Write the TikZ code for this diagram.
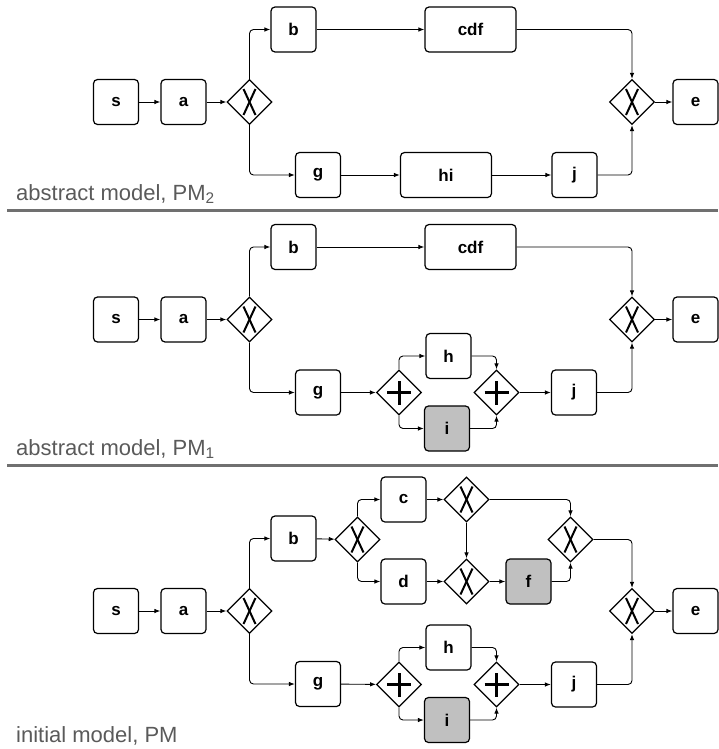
\documentclass[tikz,border=0pt]{standalone}
\usepackage{fontspec}
\setmainfont{Liberation Sans}
\usetikzlibrary{shapes.geometric,arrows.meta}
\definecolor{LabelGray}{RGB}{90,90,90}
\definecolor{RuleGray}{RGB}{112,112,112}
\definecolor{TaskGray}{RGB}{192,192,192}

\begin{document}
\begin{tikzpicture}[x=1pt, y=-1pt,
  task/.style={draw, line width=1.2pt, rounded corners=4pt, minimum width=45pt, minimum height=45pt,
    inner sep=0pt, font=\fontsize{17}{19}\selectfont\bfseries},
  widetask/.style={task, minimum width=91pt},
  greytask/.style={task, fill=TaskGray},
  gw/.style={draw, diamond, aspect=1, line width=1.2pt, minimum width=45pt, minimum height=45pt, inner sep=0pt},
  xorgw/.style={gw, path picture={
    \draw[line width=2pt] ([xshift=-6pt,yshift=-13pt]path picture bounding box.center) -- ([xshift=6pt,yshift=13pt]path picture bounding box.center);
    \draw[line width=2pt] ([xshift=6pt,yshift=-13pt]path picture bounding box.center) -- ([xshift=-6pt,yshift=13pt]path picture bounding box.center);}},
  andgw/.style={gw, path picture={
    \draw[line width=3pt] ([xshift=-12pt]path picture bounding box.center) -- ([xshift=12pt]path picture bounding box.center);
    \draw[line width=3pt] ([yshift=-12pt]path picture bounding box.center) -- ([yshift=12pt]path picture bounding box.center);}},
  flow/.style={line width=0.9pt, rounded corners=4pt, -{Latex[length=6pt,width=4.5pt]}},
  caption/.style={anchor=base west, inner sep=0pt, text=LabelGray, font=\fontsize{22}{26}\selectfont}]
\useasboundingbox (0,0) rectangle (718,749);

% parts that all three models share (2 = PM_2, 1 = PM_1, 0 = PM)
\foreach \p/\yc in {2/102, 1/319.5, 0/611}{
  \node[task]  (s\p)  at (116, \yc) {s};
  \node[task]  (a\p)  at (183.5, \yc) {a};
  \node[xorgw] (x\p)  at (249.5, \yc) {};
  \node[task]  (b\p)  at (293.5, \yc-72.5) {b};
  \node[task]  (g\p)  at (318, \yc+73) {g};
  \node[xorgw] (xe\p) at (632, \yc) {};
  \node[task]  (e\p)  at (695.5, \yc) {e};
  \draw[flow] (s\p) -- (a\p);
  \draw[flow] (a\p) -- (x\p);
  \draw[flow] (x\p.north) |- (b\p);
  \draw[flow] (x\p.south) |- (g\p);
  \draw[flow] (xe\p) -- (e\p);
}

% abstract model PM_2
\node[widetask] (cdf2) at (470.5, 29.5) {cdf};
\node[widetask] (hi2) at (446, 175) {hi};
\node[task] (j2) at (574.5, 175) {j};
\draw[flow] (b2) -- (cdf2);
\draw[flow] (cdf2) -| (xe2.north);
\draw[flow] (g2) -- (hi2);
\draw[flow] (hi2) -- (j2);
\draw[flow] (j2) -| (xe2.south);
\node[caption] (lab2) at (16, 200) {abstract model, PM\textsubscript{2}};
\draw[RuleGray, line width=3pt] (7, 210) -- (718, 210); % upper rule

% abstract model PM_1
\node[widetask] (cdf1) at (470.5, 247) {cdf};
\node[andgw] (p1) at (399, 392.5) {};
\node[andgw] (q1) at (496.5, 392.5) {};
\node[task] (h1) at (448.5, 356) {h};
\node[greytask] (i1) at (447, 428.5) {i};
\node[task] (j1) at (574, 392.5) {j};
\draw[flow] (b1) -- (cdf1);
\draw[flow] (cdf1) -| (xe1.north);
\draw[flow] (g1) -- (p1);
\draw[flow] (p1.north) |- (h1);
\draw[flow] (p1.south) |- (i1);
\draw[flow] (h1) -| (q1.north);
\draw[flow] (i1) -| (q1.south);
\draw[flow] (q1) -- (j1);
\draw[flow] (j1) -| (xe1.south);
\node[caption] (lab1) at (16, 455) {abstract model, PM\textsubscript{1}};
\draw[RuleGray, line width=3pt] (7, 465) -- (718, 465); % lower rule

% initial model PM
\node[xorgw] (xb0) at (357.5, 539.5) {};
\node[task] (c0) at (403.5, 499.5) {c};
\node[task] (d0) at (403.5, 581.5) {d};
\node[xorgw] (xc0) at (466.5, 499.5) {};
\node[xorgw] (xd0) at (466.5, 581.5) {};
\node[greytask] (f0) at (528.5, 581.5) {f};
\node[xorgw] (xf0) at (570.5, 539.5) {};
\node[andgw] (p0) at (399, 684.5) {};
\node[andgw] (q0) at (496.5, 684.5) {};
\node[task] (h0) at (448.5, 647.5) {h};
\node[greytask] (i0) at (447, 720) {i};
\node[task] (j0) at (574, 684.5) {j};
\draw[flow] (b0) -- (xb0);
\draw[flow] (xb0.north) |- (c0);
\draw[flow] (xb0.south) |- (d0);
\draw[flow] (c0) -- (xc0);
\draw[flow] (d0) -- (xd0);
\draw[flow] (xc0) -- (xd0);
\draw[flow] (xc0) -| (xf0.north);
\draw[flow] (xd0) -- (f0);
\draw[flow] (f0) -| (xf0.south);
\draw[flow] (xf0) -| (xe0.north);
\draw[flow] (g0) -- (p0);
\draw[flow] (p0.north) |- (h0);
\draw[flow] (p0.south) |- (i0);
\draw[flow] (h0) -| (q0.north);
\draw[flow] (i0) -| (q0.south);
\draw[flow] (q0) -- (j0);
\draw[flow] (j0) -| (xe0.south);
\node[caption] (lab0) at (16, 742) {initial model, PM};

\end{tikzpicture}
\end{document}
